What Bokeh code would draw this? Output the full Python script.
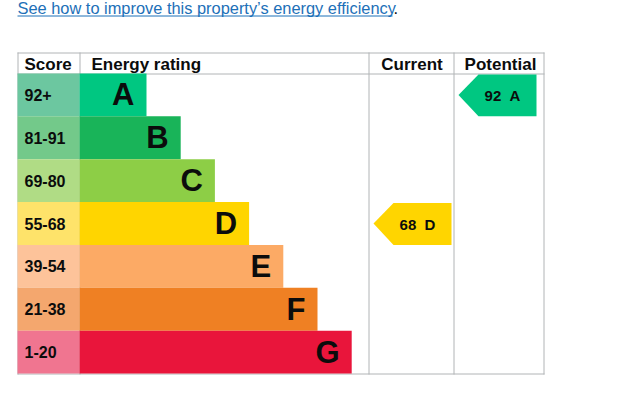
from bokeh.plotting import figure
from bokeh.models import Range1d, ColumnDataSource
from bokeh.core.properties import value
from bokeh.embed import file_html
from bokeh.resources import INLINE

# ---- data ----
bands = ["A", "B", "C", "D", "E", "F", "G"]
score_ranges = ["92+", "81-91", "69-80", "55-68", "39-54", "21-38", "1-20"]
band_min = [92, 81, 69, 55, 39, 21, 1]
bar_colors = ["#00c781", "#19b459", "#8dce46", "#ffd500", "#fcaa65", "#ef8023", "#e9153b"]
score_colors = ["#6cc7a0", "#73c98a", "#b0dc85", "#fee36a", "#fdc39a", "#f4a76e", "#f07590"]
headers = ["Score", "Energy rating", "Current", "Potential"]
current_score = 68
potential_score = 92
link_text = "See how to improve this property\u2019s energy efficiency"

FONT = value("Liberation Sans")
INK = "#0b0c0c"
GRID = "#b1b4b6"

W, H = 600, 388
p = figure(width=W, height=H, x_range=Range1d(0, W), y_range=Range1d(H, 0),
           output_backend="svg", toolbar_location=None, min_border=0,
           x_axis_type=None, y_axis_type=None)
p.grid.visible = False
p.outline_line_color = None
p.background_fill_color = "white"
p.border_fill_color = "white"

# ---- layout (pixels) ----
TL, TR, TT, HB = 17, 543, 52, 73
ROW = 300 / 7
COLS = [17, 79, 368, 453, 543]
BOTTOM = HB + ROW * len(bands)
BAR0, BARW0, BARSTEP = COLS[1], 67, 34.2

tops = [HB + i * ROW for i in range(len(bands))]
bots = [t + ROW for t in tops]
mids = [(t + b) / 2 for t, b in zip(tops, bots)]
rights = [BAR0 + BARW0 + i * BARSTEP for i in range(len(bands))]

# link text
p.text(x=[TL], y=[7.5], text=[link_text], text_font=FONT, text_font_size="16.4px",
       text_color="#1d70b8", text_baseline="alphabetic", text_align="left")
p.segment(x0=[TL], y0=[15.5], x1=[TL + 375], y1=[15.5], line_color="#1d70b8", line_width=1)
p.text(x=[TL + 376], y=[7.5], text=["."], text_font=FONT, text_font_size="16.4px",
       text_color=INK, text_baseline="alphabetic", text_align="left")

# grid lines
hx0 = [TL, TL, TL]
hy = [TT + 0.5, HB + 0.5, BOTTOM + 0.5]
p.segment(x0=hx0, y0=hy, x1=[TR + 1] * 3, y1=hy, line_color=GRID, line_width=1)
vx = [c + 0.5 for c in COLS]
p.segment(x0=vx, y0=[TT] * len(vx), x1=vx, y1=[BOTTOM + 1] * len(vx), line_color=GRID, line_width=1)

# score cells and bars
src = ColumnDataSource(dict(top=tops, bottom=bots, right=rights, mid=mids,
                            band=bands, rng=score_ranges, bc=bar_colors, sc=score_colors))
p.quad(left=COLS[0], right=COLS[1], top="top", bottom="bottom", fill_color="sc",
       line_color=None, source=src)
p.quad(left=BAR0, right="right", top="top", bottom="bottom", fill_color="bc",
       line_color=None, source=src)

p.text(x=COLS[0] + 7, y="mid", text="rng", source=src, text_font=FONT, text_font_size="16px",
       text_font_style="bold", text_color=INK, text_baseline="middle", text_align="left")
letters_x = [r - 12 for r in rights]
p.text(x=letters_x, y=mids, text=bands, text_font=FONT, text_font_size="31px",
       text_font_style="bold", text_color=INK, text_baseline="middle", text_align="right")

# headers
hy_mid = (TT + HB) / 2 + 1
p.text(x=[COLS[0] + 7, COLS[1] + 12], y=[hy_mid] * 2, text=headers[:2], text_font=FONT,
       text_font_size="17px", text_font_style="bold", text_color=INK,
       text_baseline="middle", text_align="left")
p.text(x=[(COLS[2] + COLS[3]) / 2 + 1, (COLS[3] + COLS[4]) / 2 + 2], y=[hy_mid] * 2,
       text=headers[2:], text_font=FONT, text_font_size="17px", text_font_style="bold",
       text_color=INK, text_baseline="middle", text_align="center")


def band_index(score):
    for i, m in enumerate(band_min):
        if score >= m:
            return i
    return len(band_min) - 1


# arrows
axs, ays, acol, tx, ty, tt = [], [], [], [], [], []
for score, col in ((current_score, 2), (potential_score, 3)):
    i = band_index(score)
    x0 = COLS[col] + 5
    x1 = x0 + 78
    t, b, m = tops[i] + 1, bots[i], mids[i]
    axs.append([x0, x0 + 20, x1, x1, x0 + 20])
    ays.append([m, t, t, b, b])
    acol.append(bar_colors[i])
    tx.append(x0 + 44)
    ty.append(m + 1)
    tt.append(f"{score}\u00a0\u00a0{bands[i]}")
p.patches(xs=axs, ys=ays, fill_color=acol, line_color=None)
p.text(x=tx, y=ty, text=tt, text_font=FONT, text_font_size="15px", text_font_style="bold",
       text_color=INK, text_baseline="middle", text_align="center")

open("out.html", "w").write(file_html(p, INLINE))
